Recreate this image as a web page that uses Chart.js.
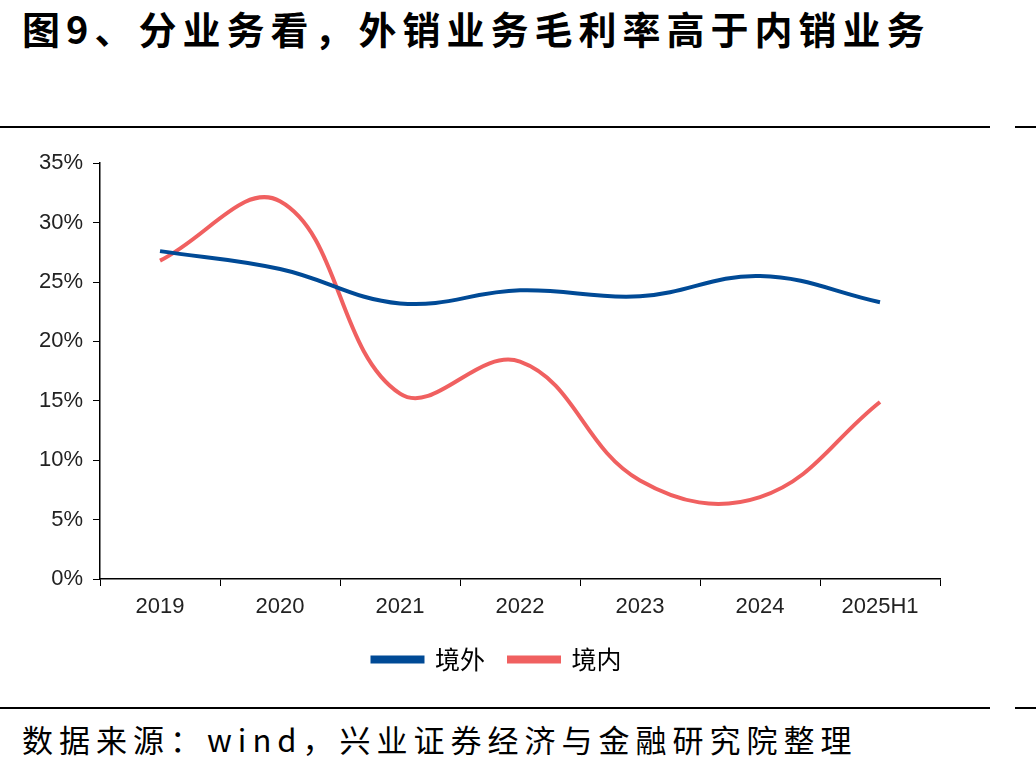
<!DOCTYPE html>
<html>
<head>
<meta charset="utf-8">
<script src="https://cdn.jsdelivr.net/npm/chart.js@4"></script>
<style>
  body { margin: 0; width: 1036px; height: 775px; background: #fff; position: relative; overflow: hidden; }
  .title { position: absolute; left: 22px; top: 0px; font: bold 38px "Noto Sans CJK SC", sans-serif; letter-spacing: 6px; color: #000; white-space: nowrap; }
  .rule { position: absolute; height: 2px; background: #000; }
  .source { position: absolute; left: 22px; top: 716px; font: 31px "Noto Sans CJK SC", sans-serif; letter-spacing: 6px; color: #000; white-space: nowrap; }
  #wrap { position: absolute; left: 0; top: 140px; width: 1036px; height: 560px; }
</style>
</head>
<body>
<div class="title">图9、分业务看，外销业务毛利率高于内销业务</div>
<div class="rule" style="left:0;top:126px;width:990px"></div>
<div class="rule" style="left:1015px;top:126px;width:21px"></div>
<div id="wrap"><canvas id="lineChart"></canvas></div>
<div class="rule" style="left:0;top:707px;width:990px"></div>
<div class="rule" style="left:1015px;top:707px;width:21px"></div>
<div class="source">数据来源：wind，兴业证券经济与金融研究院整理</div>
<script>
// data kategori dan nilai
const years = ['2019', '2020', '2021', '2022', '2023', '2024', '2025H1'];
const overseas = [27.6, 26.1, 23.2, 24.3, 23.8, 25.5, 23.3];
const domestic = [26.8, 31.8, 15.6, 18.3, 8.3, 6.9, 14.9];
const yTicks = [0, 5, 10, 15, 20, 25, 30, 35];

// geser legenda sedikit ke kanan seperti gambar asli
const legendShift = {
    id: 'legendShift',
    afterLayout(chart) {
        if (chart.legend) {
            chart.legend.left += 27;
            chart.legend.right += 27;
        }
    }
};

const ctx = document.getElementById('lineChart').getContext('2d');
new Chart(ctx, {
    type: 'line',
    data: {
        labels: years,
        datasets: [{
            label: '境外',
            data: overseas,
            borderColor: 'rgb(0, 74, 150)',
            backgroundColor: 'rgb(0, 74, 150)',
            borderWidth: 4,
            pointRadius: 0,
            tension: 0.4
        }, {
            label: '境内',
            data: domestic,
            borderColor: 'rgb(240, 96, 96)',
            backgroundColor: 'rgb(240, 96, 96)',
            borderWidth: 4,
            pointRadius: 0,
            tension: 0.4
        }]
    },
    options: {
        responsive: true,
        maintainAspectRatio: false,
        animation: false,
        layout: {
            padding: { top: 22, right: 96, bottom: 18, left: 0 }
        },
        plugins: {
            legend: {
                display: true,
                position: 'bottom',
                labels: {
                    boxWidth: 50,
                    boxHeight: 4,
                    padding: 24,
                    color: '#000',
                    font: { family: '"Noto Sans CJK SC", sans-serif', size: 25 }
                }
            },
            tooltip: { enabled: false }
        },
        scales: {
            x: {
                offset: true,
                grid: {
                    offset: true,
                    drawOnChartArea: false,
                    drawTicks: true,
                    tickLength: 7,
                    color: '#000'
                },
                border: { color: '#000', width: 1.5 },
                ticks: {
                    color: '#222',
                    padding: 8,
                    font: { family: '"Liberation Sans", Arial, sans-serif', size: 22 }
                },
                afterFit: (scale) => { scale.height = 44; }
            },
            y: {
                min: 0,
                max: 35,
                afterBuildTicks: (scale) => { scale.ticks = yTicks.map(v => ({ value: v })); },
                grid: {
                    drawOnChartArea: false,
                    drawTicks: true,
                    tickLength: 7,
                    color: '#000'
                },
                border: { color: '#000', width: 1.5 },
                ticks: {
                    color: '#222',
                    padding: 10,
                    font: { family: '"Liberation Sans", Arial, sans-serif', size: 22 },
                    callback: (v) => v + '%'
                },
                afterFit: (scale) => { scale.width = 100; }
            }
        }
    },
    plugins: [legendShift]
});
</script>
</body>
</html>
